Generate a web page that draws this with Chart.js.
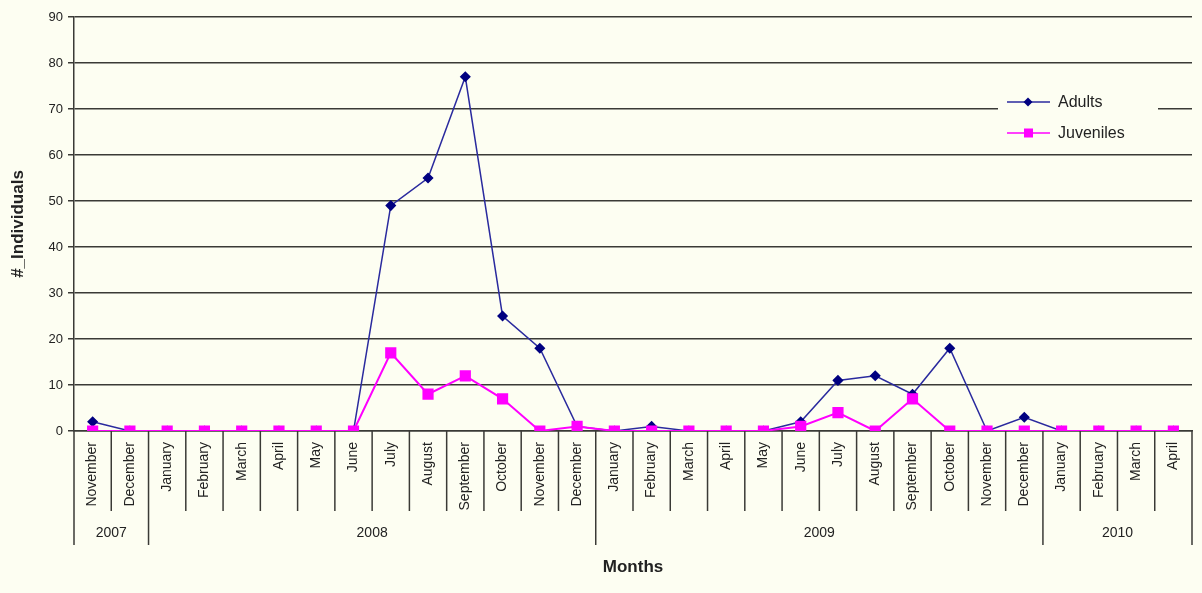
<!DOCTYPE html>
<html>
<head>
<meta charset="utf-8">
<script src="https://cdn.jsdelivr.net/npm/chart.js@4"></script>
<style>
  html, body { margin: 0; padding: 0; background: #fdfef2; }
  #chart { display: block; }
</style>
</head>
<body>
<canvas id="chart" width="1202" height="593"></canvas>
<script>
// months from Nov 2007 to Apr 2010
const months = [
  "November", "December",
  "January", "February", "March", "April", "May", "June", "July", "August", "September", "October", "November", "December",
  "January", "February", "March", "April", "May", "June", "July", "August", "September", "October", "November", "December",
  "January", "February", "March", "April"
];
const years = ["2007", "2008", "2009", "2010"];
const yearCounts = [2, 12, 12, 4];

const adults = [2, 0, 0, 0, 0, 0, 0, 0, 49, 55, 77, 25, 18, 1, 0, 1, 0, 0, 0, 2, 11, 12, 8, 18, 0, 3, 0, 0, 0, 0];
const juveniles = [0, 0, 0, 0, 0, 0, 0, 0, 17, 8, 12, 7, 0, 1, 0, 0, 0, 0, 0, 1, 4, 0, 7, 0, 0, 0, 0, 0, 0, 0];

const yTicks = [0, 10, 20, 30, 40, 50, 60, 70, 80, 90];

const bg = "#fdfef2";
const lineDark = "#3a3a36";

// background, category separators, year row, legend
const extras = {
  id: "extras",
  beforeDraw(chart) {
    const ctx = chart.ctx;
    ctx.save();
    ctx.fillStyle = bg;
    ctx.fillRect(0, 0, chart.width, chart.height);
    ctx.restore();
  },
  afterDraw(chart) {
    const ctx = chart.ctx;
    const x = chart.scales.x;
    const area = chart.chartArea;
    const n = months.length;
    const half = (x.getPixelForTick(1) - x.getPixelForTick(0)) / 2;

    // boundaries where a new year starts
    const yearEdges = [0];
    let acc = 0;
    yearCounts.forEach(c => { acc += c; yearEdges.push(acc); });

    ctx.save();
    ctx.strokeStyle = lineDark;
    ctx.lineWidth = 1.5;
    for (let i = 0; i <= n; i++) {
      const px = i < n ? x.getPixelForTick(i) - half : x.getPixelForTick(n - 1) + half;
      const isYear = yearEdges.includes(i);
      ctx.beginPath();
      ctx.moveTo(px, area.bottom);
      ctx.lineTo(px, area.bottom + (isYear ? 114 : 80));
      ctx.stroke();
    }

    // year labels
    ctx.fillStyle = "#222";
    ctx.font = "14px 'Liberation Sans', Arial, sans-serif";
    ctx.textAlign = "center";
    ctx.textBaseline = "middle";
    years.forEach((yr, k) => {
      const a = x.getPixelForTick(yearEdges[k]) - half;
      const b = x.getPixelForTick(yearEdges[k + 1] - 1) + half;
      ctx.fillText(yr, (a + b) / 2, area.bottom + 102);
    });

    // legend box
    const lx = 998, ly = 82, lw = 160, lh = 68;
    ctx.fillStyle = bg;
    ctx.fillRect(lx, ly, lw, lh);
    ctx.font = "16px 'Liberation Sans', Arial, sans-serif";
    ctx.textAlign = "left";
    chart.data.datasets.forEach((ds, k) => {
      const yy = ly + 20 + k * 31;
      ctx.strokeStyle = ds.borderColor;
      ctx.lineWidth = 1.5;
      ctx.beginPath();
      ctx.moveTo(lx + 9, yy);
      ctx.lineTo(lx + 52, yy);
      ctx.stroke();
      ctx.fillStyle = ds.pointBackgroundColor;
      ctx.beginPath();
      if (ds.pointStyle === "rectRot") {
        const r = 4.5, cx = lx + 30;
        ctx.moveTo(cx, yy - r);
        ctx.lineTo(cx + r, yy);
        ctx.lineTo(cx, yy + r);
        ctx.lineTo(cx - r, yy);
        ctx.closePath();
        ctx.fill();
      } else {
        ctx.fillRect(lx + 26, yy - 4.5, 9, 9);
      }
      ctx.fillStyle = "#222";
      ctx.fillText(ds.label, lx + 60, yy + 1);
    });
    ctx.restore();
  }
};

new Chart(document.getElementById("chart").getContext("2d"), {
  type: "line",
  data: {
    labels: months,
    datasets: [
      {
        label: "Adults",
        data: adults,
        borderColor: "#2a2a9e",
        backgroundColor: "#000080",
        pointBackgroundColor: "#000080",
        pointBorderColor: "#000080",
        pointStyle: "rectRot",
        pointRadius: 4.5,
        borderWidth: 1.5,
        tension: 0,
        order: 2
      },
      {
        label: "Juveniles",
        data: juveniles,
        borderColor: "#ff00ff",
        backgroundColor: "#ff00ff",
        pointBackgroundColor: "#ff00ff",
        pointBorderColor: "#ff00ff",
        pointStyle: "rect",
        pointRadius: 6.5,
        borderWidth: 2,
        tension: 0,
        order: 1
      }
    ]
  },
  options: {
    responsive: false,
    animation: false,
    layout: { padding: { top: 17, right: 10, left: 0, bottom: 0 } },
    plugins: {
      legend: { display: false },
      tooltip: { enabled: false }
    },
    scales: {
      x: {
        offset: true,
        grid: { display: false },
        border: { display: true, color: lineDark, width: 1.5 },
        ticks: {
          autoSkip: false,
          maxRotation: 90,
          minRotation: 90,
          padding: 3,
          color: "#222",
          font: { family: "'Liberation Sans', Arial, sans-serif", size: 14 }
        },
        title: {
          display: true,
          text: "Months",
          color: "#222",
          font: { family: "'Liberation Sans', Arial, sans-serif", size: 17, weight: "bold" },
          padding: { top: 0, bottom: 15 }
        },
        afterFit(scale) { scale.height = 162; }
      },
      y: {
        min: 0,
        max: 90,
        afterBuildTicks(scale) { scale.ticks = yTicks.map(v => ({ value: v })); },
        grid: { color: lineDark, lineWidth: 1.5, tickLength: 6 },
        border: { display: true, color: lineDark, width: 1.5 },
        ticks: {
          padding: 5,
          color: "#222",
          font: { family: "'Liberation Sans', Arial, sans-serif", size: 13 }
        },
        title: {
          display: true,
          text: "#_Individuals",
          color: "#222",
          font: { family: "'Liberation Sans', Arial, sans-serif", size: 17, weight: "bold" },
          padding: { top: 8, bottom: 0 }
        },
        afterFit(scale) { scale.width = 74; }
      }
    }
  },
  plugins: [extras]
});
</script>
</body>
</html>
